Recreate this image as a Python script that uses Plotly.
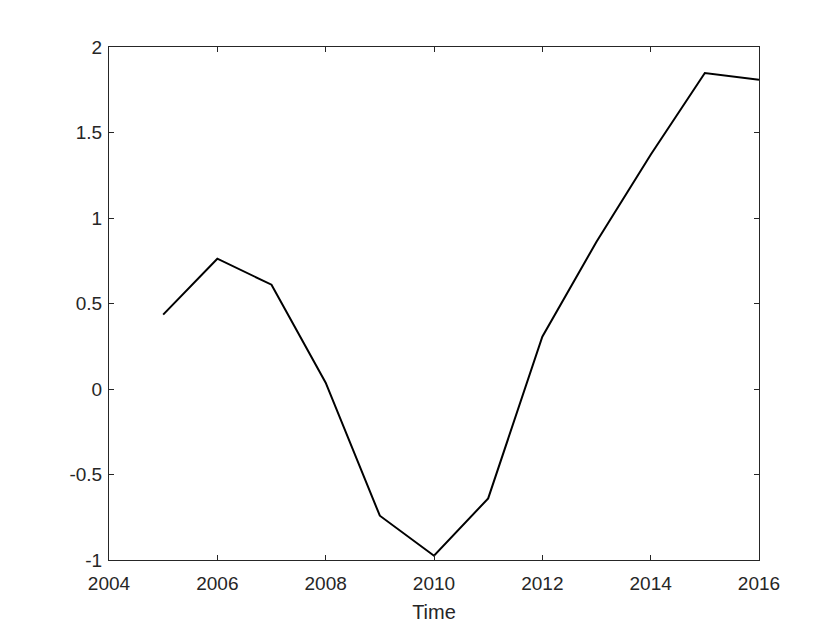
import plotly.graph_objects as go

years = [2005, 2006, 2007, 2008, 2009, 2010, 2011, 2012, 2013, 2014, 2015, 2016]
values = [0.435, 0.762, 0.61, 0.037, -0.741, -0.975, -0.64, 0.306, 0.861, 1.37, 1.848, 1.809]

x_ticks = [2004, 2006, 2008, 2010, 2012, 2014, 2016]
y_ticks = [-1, -0.5, 0, 0.5, 1, 1.5, 2]
y_tick_text = ["-1", "-0.5", "0", "0.5", "1", "1.5", "2"]

AXIS_COLOR = "#262626"
FONT = "Liberation Sans, Arial"

fig = go.Figure()
fig.add_trace(go.Scatter(
    x=years,
    y=values,
    mode="lines",
    line=dict(color="black", width=2),
    showlegend=False,
))

axis_common = dict(
    showgrid=False,
    zeroline=False,
    showline=True,
    mirror="ticks",
    linecolor=AXIS_COLOR,
    linewidth=1,
    ticks="inside",
    ticklen=5,
    tickcolor=AXIS_COLOR,
    tickfont=dict(family=FONT, size=19, color=AXIS_COLOR),
)

fig.update_xaxes(
    range=[2004, 2016],
    tickvals=x_ticks,
    ticklabelstandoff=6,
    title=dict(text="Time", font=dict(family=FONT, size=20, color=AXIS_COLOR), standoff=12),
    **axis_common,
)
fig.update_yaxes(
    range=[-1, 2],
    tickvals=y_ticks,
    ticktext=y_tick_text,
    ticklabelstandoff=2,
    **axis_common,
)

# page has an 8px body margin, so offsets are shifted accordingly
fig.update_layout(
    width=840,
    height=630,
    plot_bgcolor="white",
    paper_bgcolor="white",
    margin=dict(l=101, r=89, t=39, b=78),
)

fig.write_html("out.html")
